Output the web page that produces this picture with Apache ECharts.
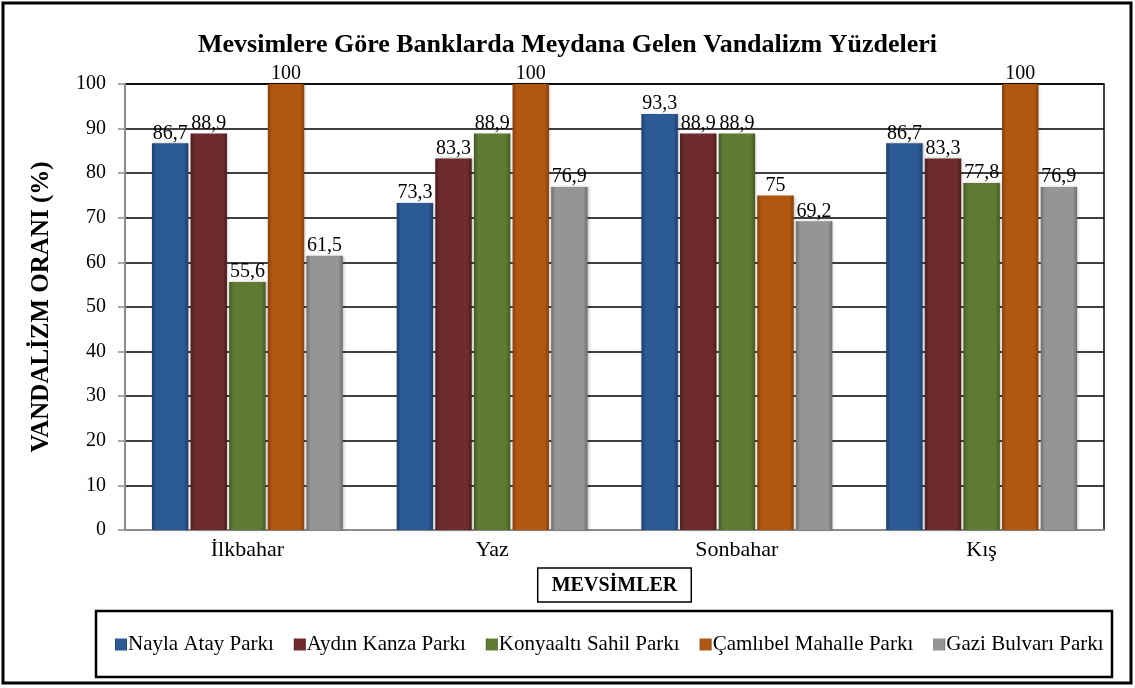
<!DOCTYPE html>
<html>
<head>
<meta charset="utf-8">
<script src="https://cdn.jsdelivr.net/npm/echarts@6/dist/echarts.min.js"></script>
<style>
  html, body { margin: 0; padding: 0; background: #fff; }
  #chart { width: 1135px; height: 688px; }
</style>
</head>
<body>
<div id="chart"></div>
<script>
// veriler
const seasons = ["İlkbahar", "Yaz", "Sonbahar", "Kış"]
const parkNames = ["Nayla Atay Parkı", "Aydın Kanza Parkı", "Konyaaltı Sahil Parkı", "Çamlıbel Mahalle Parkı", "Gazi Bulvarı Parkı"]
const naylaAtay = [86.7, 73.3, 93.3, 86.7]
const aydinKanza = [88.9, 83.3, 88.9, 83.3]
const konyaalti = [55.6, 88.9, 88.9, 77.8]
const camlibel = [100, 100, 75, 100]
const gaziBulvari = [61.5, 76.9, 69.2, 76.9]
const yTicks = [0, 10, 20, 30, 40, 50, 60, 70, 80, 90, 100]

const values = [naylaAtay, aydinKanza, konyaalti, camlibel, gaziBulvari]
const colors = [
    ["#1b3f6e", "#2b5a95", "#1b3f6e"],
    ["#4f1c1c", "#6e2c2c", "#4f1c1c"],
    ["#435a22", "#5f7a33", "#435a22"],
    ["#8a3f08", "#b05812", "#8a3f08"],
    ["#6e6e6e", "#959595", "#6e6e6e"],
]
const font = "'Liberation Serif', 'Times New Roman', serif"

const chart = echarts.init(document.getElementById("chart"), null, { renderer: "canvas" })

const series = parkNames.map((name, i) => ({
    name,
    type: "bar",
    data: values[i],
    barGap: "6%",
    barCategoryGap: "22%",
    itemStyle: {
        color: new echarts.graphic.LinearGradient(0, 0, 1, 0, [
            { offset: 0, color: colors[i][0] },
            { offset: 0.12, color: colors[i][1] },
            { offset: 0.88, color: colors[i][1] },
            { offset: 1, color: colors[i][2] },
        ]),
        shadowColor: "rgba(0,0,0,0.25)",
        shadowBlur: 3,
        shadowOffsetX: 1,
    },
    label: {
        show: true,
        position: "top",
        distance: 0,
        color: "#000",
        fontFamily: font,
        fontSize: 20,
        formatter: (p) => String(p.value).replace(".", ","),
    },
}))

const option = {
    animation: false,
    backgroundColor: "#fff",
    color: colors.map((c) => c[1]),
    title: {
        text: "Mevsimlere Göre Banklarda Meydana Gelen Vandalizm Yüzdeleri",
        left: "center",
        top: 27,
        textStyle: { fontFamily: font, fontSize: 26, fontWeight: "bold", color: "#000" },
    },
    grid: {
        left: 125, right: 31, top: 84, bottom: 158,
        show: true, borderColor: "#000", borderWidth: 1.5,
    },
    legend: {
        bottom: 28,
        left: 110,
        itemWidth: 12,
        itemHeight: 12,
        itemGap: 20,
        icon: "rect",
        textStyle: { fontFamily: font, fontSize: 21, color: "#000", padding: [0, 0, 0, -4] },
        data: parkNames,
    },
    xAxis: {
        type: "category",
        data: seasons,
        name: "MEVSİMLER",
        nameLocation: "middle",
        nameGap: 38,
        nameTextStyle: {
            fontFamily: font, fontSize: 20, fontWeight: "bold", color: "#000",
            borderColor: "#000", borderWidth: 1.5, padding: [8, 14, 6, 14],
            verticalAlign: "top",
        },
        axisLine: { lineStyle: { color: "#8c8c8c", width: 2 } },
        axisTick: { show: false },
        axisLabel: { fontFamily: font, fontSize: 22, color: "#000", margin: 9 },
    },
    yAxis: {
        type: "value",
        min: yTicks[0],
        max: yTicks[yTicks.length - 1],
        interval: 10,
        name: "VANDALİZM ORANI (%)",
        nameLocation: "middle",
        nameGap: 71,
        nameTextStyle: { fontFamily: font, fontSize: 25, fontWeight: "bold", color: "#000" },
        axisLine: { show: true, lineStyle: { color: "#8c8c8c", width: 2 } },
        axisTick: { show: true, length: 7, lineStyle: { color: "#8c8c8c", width: 1.5 } },
        axisLabel: { fontFamily: font, fontSize: 20, color: "#000", margin: 19 },
        splitLine: { lineStyle: { color: "#000", width: 1.5 } },
    },
    graphic: [
        {
            type: "rect",
            shape: { x: 3, y: 3, width: 1128, height: 680 },
            style: { fill: "none", stroke: "#000", lineWidth: 3 },
            silent: true,
        },
        {
            type: "rect",
            shape: { x: 96, y: 611, width: 1016, height: 66 },
            style: { fill: "none", stroke: "#000", lineWidth: 2.5 },
            silent: true,
        },
    ],
    series,
}

chart.setOption(option)
</script>
</body>
</html>
